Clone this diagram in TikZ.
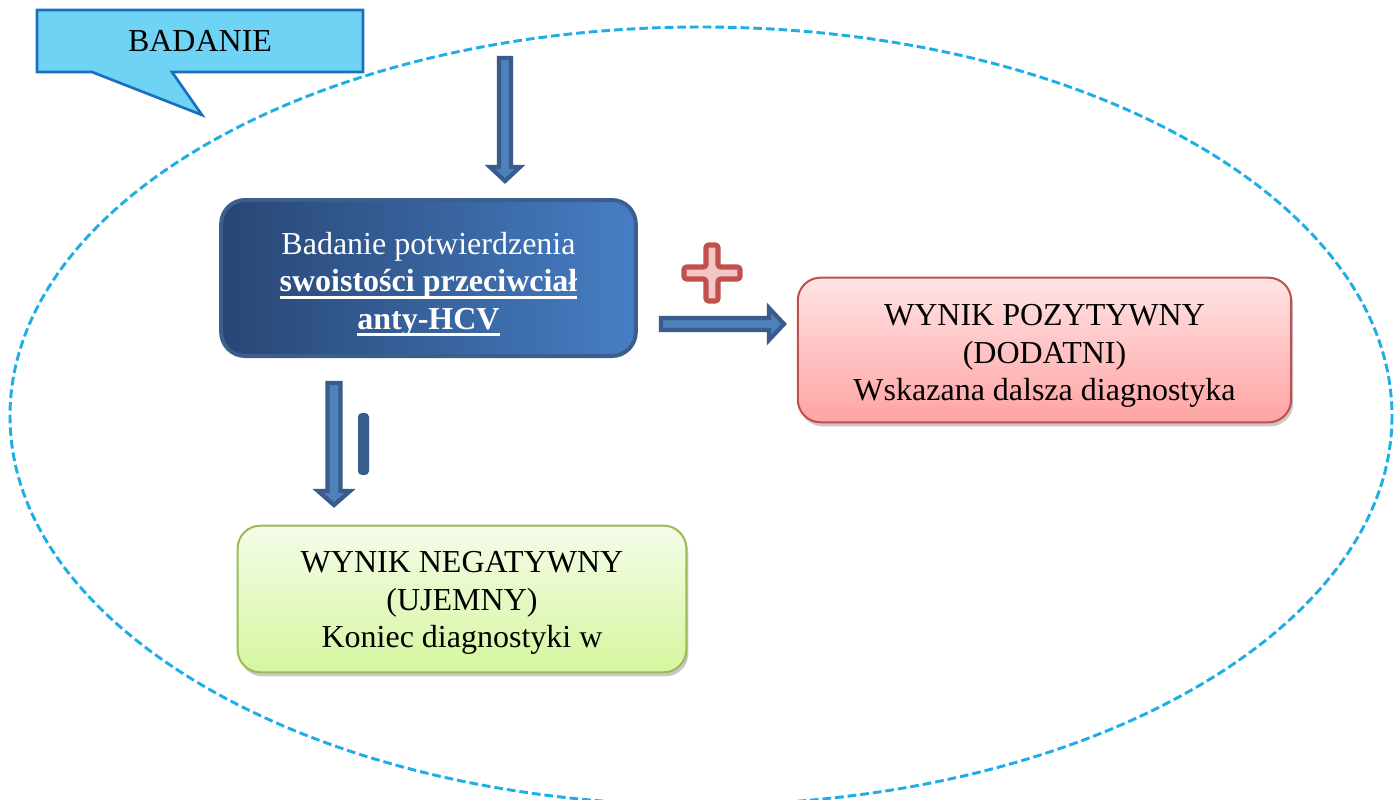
\documentclass[tikz,border=0pt]{standalone}
\usepackage{fontspec}
\setmainfont{Liberation Serif}
\usetikzlibrary{calc,shadows}
\definecolor{ellC}{RGB}{30,174,230}
\definecolor{callFill}{RGB}{111,211,245}
\definecolor{callDraw}{RGB}{26,111,191}
\definecolor{mainL}{RGB}{40,70,116}
\definecolor{mainR}{RGB}{70,126,196}
\definecolor{mainDraw}{RGB}{60,94,140}
\definecolor{arrFill}{RGB}{79,129,189}
\definecolor{arrDraw}{RGB}{58,92,140}
\definecolor{redTop}{RGB}{255,228,228}
\definecolor{redBot}{RGB}{255,163,163}
\definecolor{redDraw}{RGB}{192,80,77}
\definecolor{greenTop}{RGB}{244,252,233}
\definecolor{greenBot}{RGB}{214,246,158}
\definecolor{greenDraw}{RGB}{155,187,89}
\definecolor{plusFill}{RGB}{244,199,199}
\newcommand\bigfont{\fontsize{24}{28.2}\selectfont}
\newcommand\ulb[1]{\setbox0=\hbox{#1}\rlap{\rule[-5.2pt]{\wd0}{2.2pt}}\box0}
\tikzset{
  resbox/.style={rounded corners=17pt, inner sep=0pt, align=center, font=\bigfont, line width=1.5pt,
    drop shadow={shadow xshift=1.5pt, shadow yshift=-3pt, opacity=0.35, fill=black!60}},
  barrow/.style={fill=arrFill, draw=arrDraw, line width=3.2pt, line join=miter},
}
\begin{document}
\begin{tikzpicture}[x=0.75pt,y=-0.75pt]
\clip (0,0) rectangle (1400,800);
\fill[white] (0,0) rectangle (1400,800);
% dashed ellipse
\draw[ellC, line width=2.2pt, dash pattern=on 6.5pt off 3pt] (701,416) ellipse [x radius=691, y radius=389];
% callout
\draw[fill=callFill, draw=callDraw, line width=2pt, line join=miter]
  (37,10) -- (363,10) -- (363,72) -- (172,72) -- (202,115) -- (92,72) -- (37,72) -- cycle;
\node[font=\bigfont] (badanie) at (200,41) {BADANIE};
% main box
\node[rounded corners=18pt, inner sep=0pt, align=center, font=\bigfont, text=white,
  left color=mainL, right color=mainR, draw=mainDraw, line width=3pt,
  minimum width=311pt, minimum height=117pt] (main) at (428.5,278)
  {\rule{0pt}{26pt}Badanie potwierdzenia\\ \textbf{\ulb{swoisto\'sci przeciwcia\l}}\\ \textbf{\ulb{anty-HCV}}};
% result boxes
\node[resbox, top color=redTop, bottom color=redBot, draw=redDraw,
  minimum width=370pt, minimum height=108.5pt] (pos) at (1044.5,350)
  {\rule{0pt}{25pt}WYNIK POZYTYWNY\\ (DODATNI)\\ Wskazana dalsza diagnostyka};
\node[resbox, top color=greenTop, bottom color=greenBot, draw=greenDraw,
  minimum width=336.5pt, minimum height=110pt] (neg) at (462,599)
  {\rule{0pt}{22pt}WYNIK NEGATYWNY\\ (UJEMNY)\\ Koniec diagnostyki w};
% arrow ends
\coordinate (topS) at (505,58);
\coordinate (topT) at (505,181);
\coordinate (rS) at (661,324);
\coordinate (rT) at (784,324);
\coordinate (dS) at (334,383);
\coordinate (dT) at (334,505);
\coordinate (plus) at (712,273);
% top arrow
\draw[barrow] ($(topS)+(-6,0)$) -- ($(topT)+(-6,-14)$) -- ($(topT)+(-15,-14)$) -- (topT)
  -- ($(topT)+(15,-14)$) -- ($(topT)+(6,-14)$) -- ($(topS)+(6,0)$) -- cycle;
% right arrow
\draw[barrow] ($(rS)+(0,-6)$) -- ($(rT)+(-15,-6)$) -- ($(rT)+(-15,-16)$) -- (rT)
  -- ($(rT)+(-15,16)$) -- ($(rT)+(-15,6)$) -- ($(rS)+(0,6)$) -- cycle;
% down arrow
\draw[barrow] ($(dS)+(-6.5,0)$) -- ($(dT)+(-6.5,-14)$) -- ($(dT)+(-16,-14)$) -- (dT)
  -- ($(dT)+(16,-14)$) -- ($(dT)+(6.5,-14)$) -- ($(dS)+(6.5,0)$) -- cycle;
% minus sign
\node[fill=arrDraw, rounded corners=3pt, inner sep=0pt, minimum width=8.25pt, minimum height=46.5pt] (minus) at (363.5,444) {};
% plus sign
\begin{scope}[shift={(plus)}]
\draw[fill=plusFill, draw=redDraw, line width=3.8pt, rounded corners=2pt]
  (-6,-28) -- (6,-28) -- (6,-6) -- (28,-6) -- (28,6) -- (6,6) -- (6,28) -- (-6,28)
  -- (-6,6) -- (-28,6) -- (-28,-6) -- (-6,-6) -- cycle;
\end{scope}
\end{tikzpicture}
\end{document}
